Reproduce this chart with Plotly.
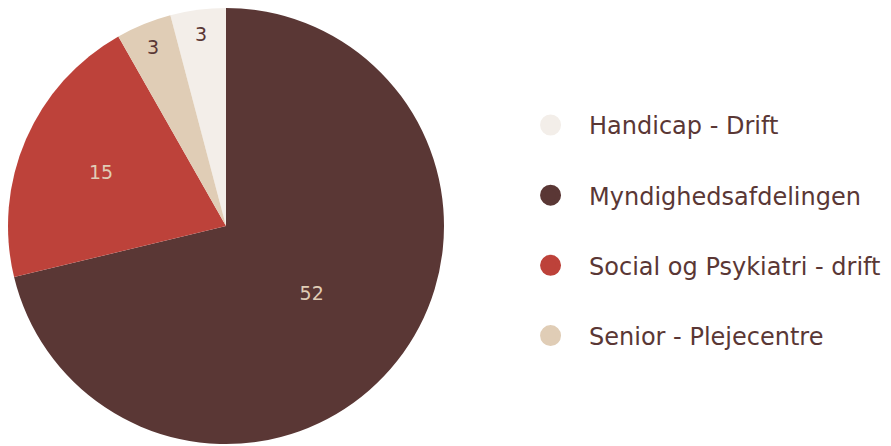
import plotly.graph_objects as go

labels = ["Handicap - Drift", "Myndighedsafdelingen", "Social og Psykiatri - drift", "Senior - Plejecentre"]
values = [3, 52, 15, 3]
colors = ["#f3eee9", "#5a3735", "#bd423a", "#e0cdb6"]
text_colors = ["#5a3735", "#e0cdb6", "#e0cdb6", "#5a3735"]

FONT = "DejaVu Sans"

fig = go.Figure()
fig.add_trace(go.Pie(
    labels=labels, values=values, sort=False, direction="clockwise",
    rotation=-values[0] / sum(values) * 360,
    marker=dict(colors=colors, line=dict(width=0)),
    textinfo="value", textposition="inside", insidetextorientation="horizontal",
    textfont=dict(color=text_colors, size=19, family=FONT),
    showlegend=False, hoverinfo="label+value",
    domain=dict(x=[0, 0.5073], y=[0, 1]),
))
for i, (lab, col) in enumerate(zip(labels, colors)):
    fig.add_trace(go.Scatter(
        x=[None], y=[None], mode="markers", name=lab,
        marker=dict(size=16, color=col, line=dict(color=col, width=5)),
        legendgroup=f"g{i}",
    ))

fig.update_layout(
    width=891, height=446,
    margin=dict(l=0, r=0, t=8, b=2),
    paper_bgcolor="white", plot_bgcolor="white",
    xaxis=dict(visible=False), yaxis=dict(visible=False),
    legend=dict(x=0.5747, y=0.49, xanchor="left", yanchor="middle",
                font=dict(family=FONT, size=24, color="#5a3735"),
                tracegroupgap=36, itemsizing="trace", itemwidth=67),
)
fig.write_html("out.html")
